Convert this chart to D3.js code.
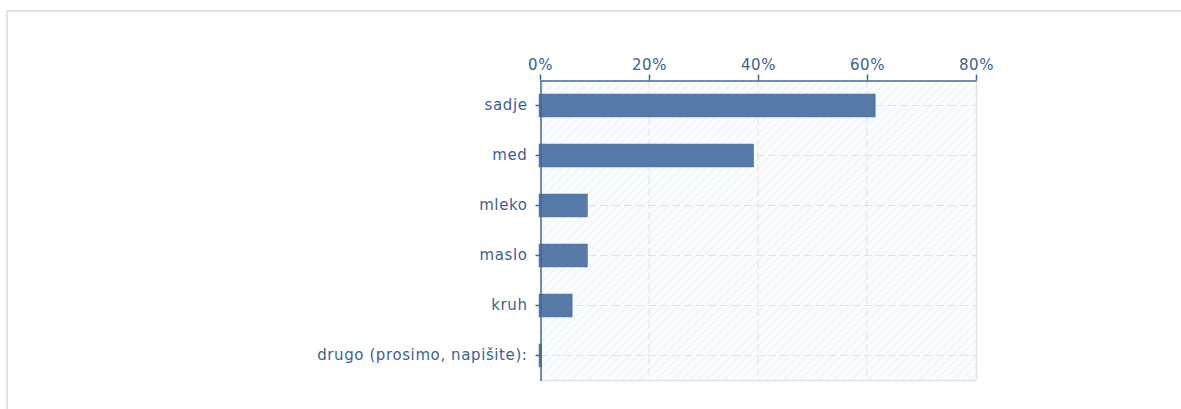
<!DOCTYPE html>
<html>
<head>
<meta charset="utf-8">
<script src="https://cdn.jsdelivr.net/npm/d3@7"></script>
<style>
  html, body { margin: 0; padding: 0; background: #fff; }
  svg { display: block; font-family: "DejaVu Sans", Verdana, sans-serif; }
</style>
</head>
<body>
<svg id="chart" width="1181" height="409"></svg>
<script>
var categories = ['sadje', 'med', 'mleko', 'maslo', 'kruh', 'drugo (prosimo, napišite):'];
var values = [61.5, 39.2, 8.7, 8.7, 5.9, 0.3];
var tickValues = [0, 20, 40, 60, 80];

var svg = d3.select('#chart');
var plot = {l: 540, r: 976, t: 80, b: 380};
var axisColor = '#3f68a0';
var textColor = '#3d5f96';
var gridColor = '#dde3ee';

// outer panel border
svg.append('rect')
  .attr('x', 7).attr('y', 11)
  .attr('width', 1200).attr('height', 420)
  .attr('fill', 'none')
  .attr('stroke', '#dde3ee')
  .attr('stroke-width', 2);

var x = d3.scaleLinear().domain([0, 80]).range([plot.l, plot.r]);
var y = d3.scaleBand().domain(categories).range([plot.t, plot.b]);

// hatched background
var defs = svg.append('defs');
var pat = defs.append('pattern')
  .attr('id', 'hatch')
  .attr('patternUnits', 'userSpaceOnUse')
  .attr('width', 6).attr('height', 6)
  .attr('patternTransform', 'rotate(45)');
pat.append('rect').attr('width', 6).attr('height', 6).attr('fill', '#fbfcfd');
pat.append('line')
  .attr('x1', 0).attr('y1', 0).attr('x2', 0).attr('y2', 6)
  .attr('stroke', '#eef1f5').attr('stroke-width', 2);

svg.append('rect')
  .attr('x', plot.l).attr('y', plot.t)
  .attr('width', plot.r - plot.l).attr('height', plot.b - plot.t)
  .attr('fill', 'url(#hatch)');

// grid lines
svg.append('g').selectAll('line')
  .data(tickValues.slice(1, -1))
  .enter().append('line')
  .attr('x1', function(d) { return x(d); })
  .attr('x2', function(d) { return x(d); })
  .attr('y1', plot.t).attr('y2', plot.b)
  .attr('stroke', gridColor)
  .attr('stroke-dasharray', '8,4');

svg.append('g').selectAll('line')
  .data(categories)
  .enter().append('line')
  .attr('x1', plot.l).attr('x2', plot.r)
  .attr('y1', function(d) { return y(d) + y.bandwidth() / 2 + 0.5; })
  .attr('y2', function(d) { return y(d) + y.bandwidth() / 2 + 0.5; })
  .attr('stroke', gridColor)
  .attr('stroke-dasharray', '8,4');

// right and bottom frame
svg.append('line')
  .attr('x1', plot.r + 0.5).attr('x2', plot.r + 0.5)
  .attr('y1', plot.t).attr('y2', plot.b)
  .attr('stroke', gridColor).attr('stroke-width', 1.5);
svg.append('line')
  .attr('x1', plot.l).attr('x2', plot.r)
  .attr('y1', plot.b + 0.5).attr('y2', plot.b + 0.5)
  .attr('stroke', gridColor).attr('stroke-width', 1.5);

// bars
var barH = 23;
svg.append('g').selectAll('rect')
  .data(categories)
  .enter().append('rect')
  .attr('x', x(0) - 1)
  .attr('y', function(d) { return y(d) + (y.bandwidth() - barH) / 2 + 0.5; })
  .attr('width', function(d, i) { return Math.max(1.5, x(values[i]) - x(0) + 1); })
  .attr('height', barH)
  .attr('fill', '#557aa7')
  .attr('stroke', '#4c6f9c')
  .attr('stroke-width', 0.5);

// top axis
var xAxis = svg.append('g')
  .attr('transform', 'translate(0,' + (plot.t + 0.5) + ')')
  .call(d3.axisTop(x).tickValues(tickValues).tickSize(6).tickSizeOuter(0)
    .tickFormat(function(d) { return d + '%'; }));
xAxis.select('.domain').attr('stroke', axisColor).attr('stroke-width', 1.5);
xAxis.selectAll('.tick line').attr('stroke', axisColor).attr('stroke-width', 1.5);
xAxis.selectAll('.tick text')
  .attr('fill', textColor)
  .attr('font-size', 15)
  .attr('letter-spacing', '0.6px')
  .attr('font-family', '"DejaVu Sans", Verdana, sans-serif')
  .attr('dy', '-2px');

// left axis
var yAxis = svg.append('g')
  .attr('transform', 'translate(' + (plot.l + 0.5) + ',0.5)')
  .call(d3.axisLeft(y).tickSize(5).tickSizeOuter(0).tickPadding(8));
yAxis.select('.domain').attr('stroke', axisColor).attr('stroke-width', 1.5);
yAxis.selectAll('.tick line').attr('stroke', axisColor).attr('stroke-width', 1.5);
yAxis.selectAll('.tick text')
  .attr('fill', textColor)
  .attr('font-size', 15)
  .attr('letter-spacing', '0.6px')
  .attr('font-family', '"DejaVu Sans", Verdana, sans-serif');
</script>
</body>
</html>
